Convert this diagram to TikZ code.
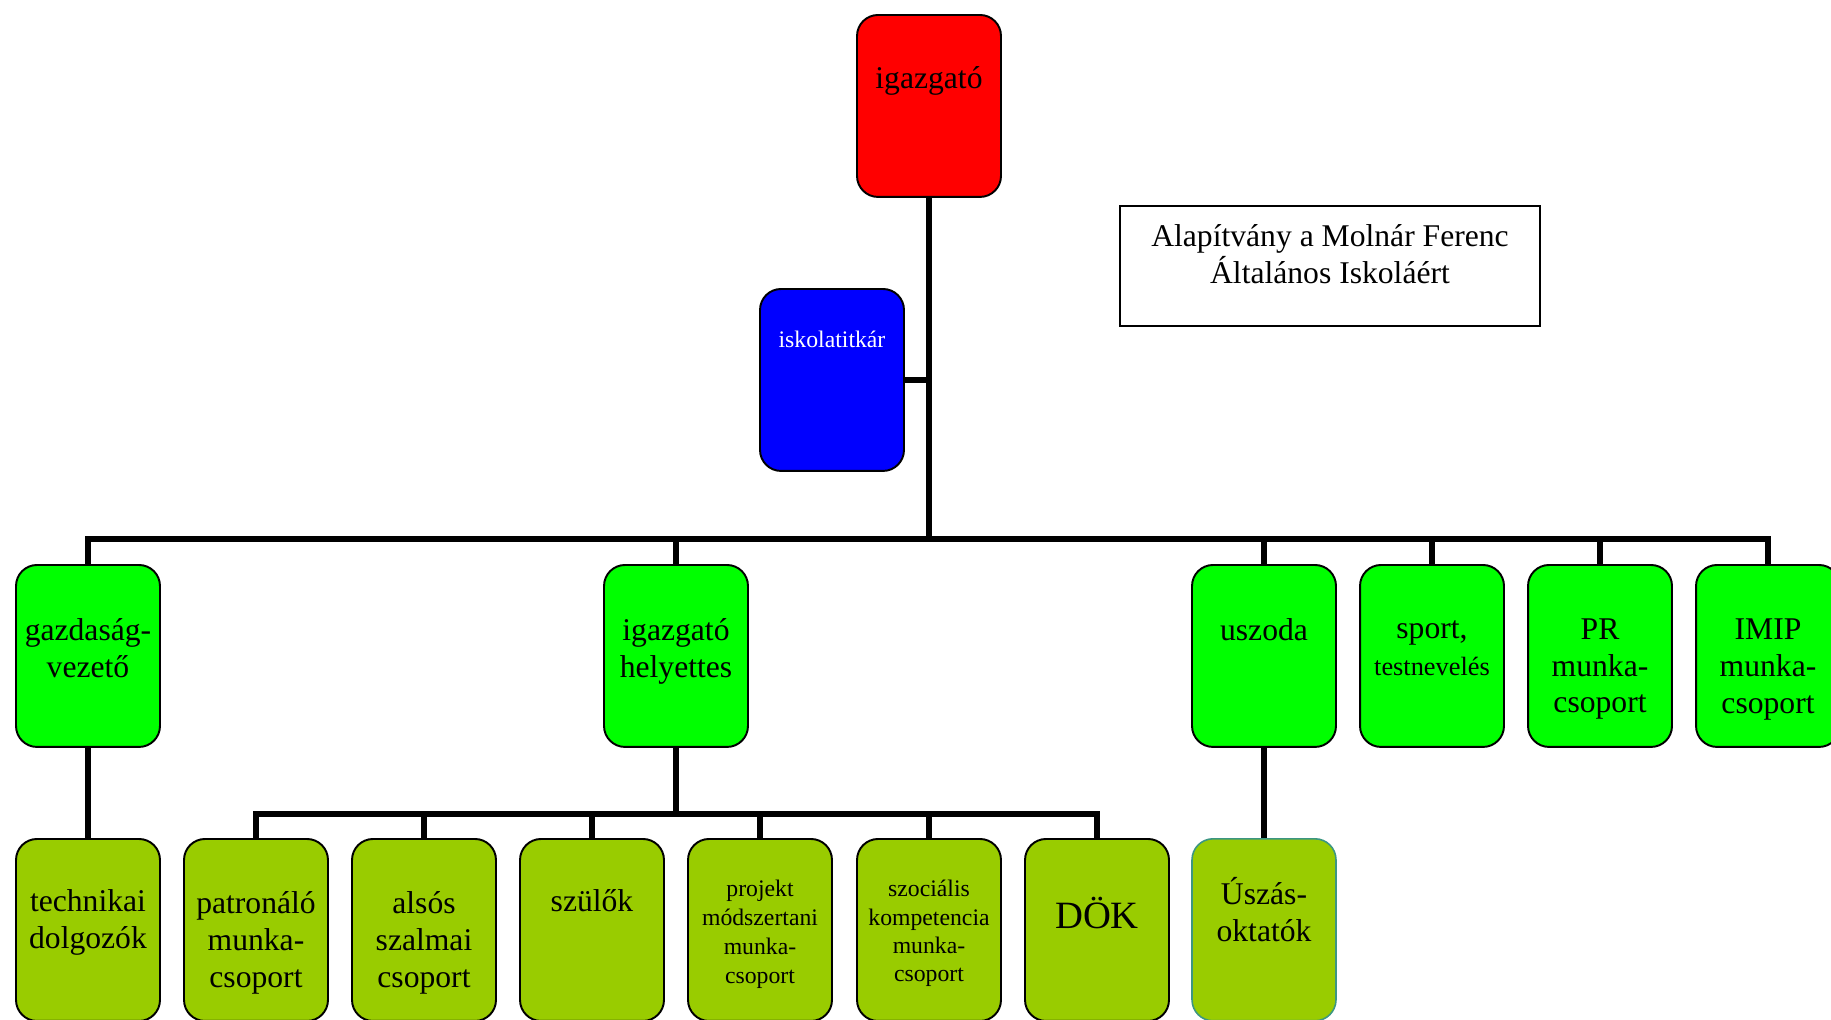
\documentclass[tikz,border=0pt]{standalone}
\usepackage{fontspec}
\setmainfont{Liberation Serif}
\usetikzlibrary{positioning}
\definecolor{headred}{RGB}{255,0,0}
\definecolor{clerkblue}{RGB}{0,0,255}
\definecolor{leadgreen}{RGB}{0,255,0}
\definecolor{teamgreen}{RGB}{153,204,0}
\definecolor{poolteal}{RGB}{60,150,130}
\tikzset{unit/.style = {draw, line width = 1.1pt, rounded corners = 0.42cm, inner sep = 0,
    anchor = north, text width = 2.88cm, align = flush center,
    text height = #1*0.02cm, text depth = 3.64cm-#1*0.02cm,
    font = \fontsize{18}{21}\selectfont}}
\tikzset{small/.style = {font = \fontsize{13.5}{16}\selectfont}}
\tikzset{wire/.style = {line width = 3.7pt}}

\begin{document}
\begin{tikzpicture}[x=0.02cm, y=-0.02cm]
      \useasboundingbox (0, 0) rectangle (1831, 1019);
      \clip (0, 0) rectangle (1831, 1019);

      \node [unit=74, fill=headred] at (929, 14) (igazgato) {igazgató};
      \node [unit=59, small, fill=clerkblue, text=white] at (832, 288) (titkar) {iskolatitkár};
      \node [draw, line width = 1pt, inner sep = 0, anchor = north, text width = 8.4cm, align = flush center,
        text height = 0.82cm, text depth = 1.58cm, font = \fontsize{18}{21}\selectfont]
        at (1330, 205) (alapitvany) {Alapítvány a Molnár Ferenc\\Általános Iskoláért};

      \node [unit=76, fill=leadgreen] at (88, 564) (gazdasag) {gazdaság-\\vezető};
      \node [unit=76, fill=leadgreen] at (676, 564) (helyettes) {igazgató\\helyettes};
      \node [unit=76, fill=leadgreen] at (1264, 564) (uszoda) {uszoda};
      \node [unit=74, fill=leadgreen] at (1432, 564) (sport) {sport,\\{\fontsize{15}{18}\selectfont testnevelés}};
      \node [unit=75, fill=leadgreen, font = \fontsize{18}{20.5}\selectfont] at (1600, 564) (pr) {PR\\munka-\\csoport};
      \node [unit=75, fill=leadgreen] at (1768, 564) (imip) {IMIP\\munka-\\csoport};

      \node [unit=73, fill=teamgreen] at (88, 838) (technikai) {technikai\\dolgozók};
      \node [unit=75, fill=teamgreen] at (256, 838) (patronalo) {patronáló\\munka-\\csoport};
      \node [unit=75, fill=teamgreen] at (424, 838) (also) {alsós\\szalmai\\csoport};
      \node [unit=73, fill=teamgreen] at (592, 838) (szulok) {szülők};
      \node [unit=58, small, fill=teamgreen, font = \fontsize{13.5}{16.5}\selectfont] at (760, 838) (projekt) {projekt\\módszertani\\munka-\\csoport};
      \node [unit=58, small, fill=teamgreen, font = \fontsize{13.5}{16}\selectfont] at (929, 838) (szocialis) {szociális\\kompetencia\\munka-\\csoport};
      \node [unit=90, fill=teamgreen, font = \fontsize{22}{26}\selectfont] at (1097, 838) (dok) {DÖK};
      \node [unit=66, fill=teamgreen, draw=poolteal, line width = 0.9pt] at (1264, 838) (uszas) {Úszás-\\oktatók};

      \coordinate (bus) at (929, 539);
      \coordinate (subbus) at (676, 814);

      % main trunk and the bus under it
      \draw [wire] (igazgato.south) -- (igazgato.south |- bus);
      \draw [wire] (titkar.east) -- (titkar.east -| igazgato.south);
      \draw [wire] (gazdasag.north) -- (gazdasag.north |- bus) -- (imip.north |- bus) -- (imip.north);
      \draw [wire] (helyettes.north) -- (helyettes.north |- bus);
      \draw [wire] (uszoda.north) -- (uszoda.north |- bus);
      \draw [wire] (sport.north) -- (sport.north |- bus);
      \draw [wire] (pr.north) -- (pr.north |- bus);

      % second level
      \draw [wire] (gazdasag.south) -- (technikai.north);
      \draw [wire] (uszoda.south) -- (uszas.north);
      \draw [wire] (helyettes.south) -- (helyettes.south |- subbus);
      \draw [wire] (patronalo.north) -- (patronalo.north |- subbus) -- (dok.north |- subbus) -- (dok.north);
      \draw [wire] (also.north) -- (also.north |- subbus);
      \draw [wire] (szulok.north) -- (szulok.north |- subbus);
      \draw [wire] (projekt.north) -- (projekt.north |- subbus);
      \draw [wire] (szocialis.north) -- (szocialis.north |- subbus);
    \end{tikzpicture}
\end{document}
